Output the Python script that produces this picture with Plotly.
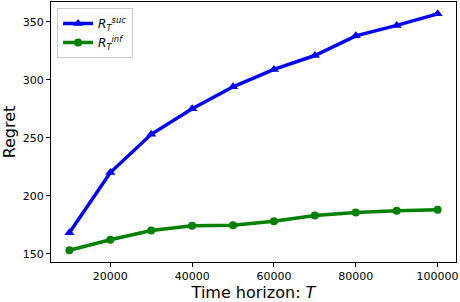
import plotly.graph_objects as go

T = [10000, 20000, 30000, 40000, 50000, 60000, 70000, 80000, 90000, 100000]
regret_suc = [168, 220, 253, 275, 294, 309, 321, 338, 347, 357]
regret_inf = [153, 162, 170, 174, 174.5, 178, 183, 185.5, 187, 188]
x_ticks = [20000, 40000, 60000, 80000, 100000]
y_ticks = [150, 200, 250, 300, 350]

fig = go.Figure()
fig.add_trace(go.Scatter(x=T, y=regret_suc, mode="lines+markers",
                         name="<i>R</i><sub><i>T</i></sub><sup><i>suc</i></sup>",
                         line=dict(color="#0000ff", width=3.5),
                         marker=dict(symbol="triangle-up", size=9, color="#0000ff")))
fig.add_trace(go.Scatter(x=T, y=regret_inf, mode="lines+markers",
                         name="<i>R</i><sub><i>T</i></sub><sup><i>inf</i></sup>",
                         line=dict(color="#008000", width=3.5),
                         marker=dict(symbol="circle", size=8, color="#008000")))

axis_common = dict(showline=True, linecolor="black", linewidth=1, mirror=True,
                   ticks="outside", ticklen=4, tickcolor="black", showgrid=False,
                   zeroline=False, automargin=False,
                   tickfont=dict(family="DejaVu Sans", size=11, color="black"))

fig.update_layout(
    width=460, height=302,
    margin=dict(l=51, r=4, t=2, b=40),
    plot_bgcolor="white", paper_bgcolor="white",
    font=dict(family="DejaVu Sans", color="black"),
    xaxis=dict(range=[5500, 104500], tickvals=x_ticks, ticktext=[str(v) for v in x_ticks],
               title=dict(text="Time horizon: <i>T</i>", font=dict(size=16), standoff=2),
               **axis_common),
    yaxis=dict(range=[142.8, 367.2], tickvals=y_ticks, ticktext=[str(v) for v in y_ticks],
               title=dict(text="Regret", font=dict(size=16), standoff=4),
               **axis_common),
    legend=dict(x=0.015, y=0.977, xanchor="left", yanchor="top",
                bgcolor="rgba(255,255,255,0.8)", bordercolor="#cccccc", borderwidth=1,
                font=dict(size=12), tracegroupgap=0),
    showlegend=True,
)

fig.write_html("out.html", config={"displayModeBar": False},
               post_script="document.body.style.margin='0';")
